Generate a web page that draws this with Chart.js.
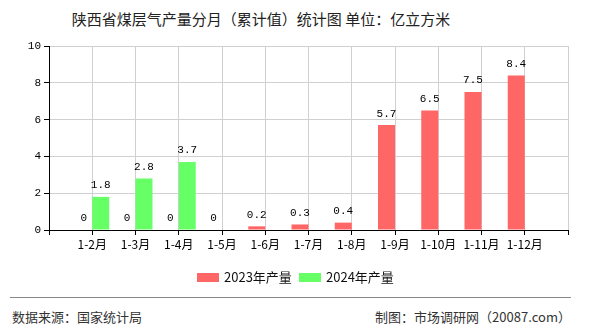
<!DOCTYPE html>
<html>
<head>
<meta charset="utf-8">
<script src="https://cdn.jsdelivr.net/npm/chart.js@4.4.1/dist/chart.umd.min.js"></script>
<style>
  body { margin: 0; width: 590px; height: 330px; background: #fff; position: relative; overflow: hidden;
         font-family: "Noto Sans CJK SC", "Noto Sans", sans-serif; }
  #title { position: absolute; left: 0; width: 522px; top: 8px; text-align: center; font-size: 15px; color: #222; white-space: nowrap; }
  #wrap { position: absolute; left: 0; top: 0; width: 590px; height: 298px; }
  .legend { position: absolute; top: 268px; font-size: 13px; color: #111; line-height: 18px; }
  .legend i { display: inline-block; width: 22px; height: 9px; vertical-align: middle; margin-right: 5px; position: relative; top: -1px; }
  #sep { position: absolute; left: 10px; width: 561px; top: 297px; height: 0; border-top: 1px solid #888; }
  .foot { position: absolute; top: 307px; font-size: 13px; color: #333; }
</style>
</head>
<body>
<div id="title">陕西省煤层气产量分月（累计值）统计图 单位：亿立方米</div>
<div id="wrap"><canvas id="chart"></canvas></div>
<div class="legend" style="left:197px"><i style="background:#ff6666"></i>2023年产量</div>
<div class="legend" style="left:299px"><i style="background:#66ff66"></i>2024年产量</div>
<div id="sep"></div>
<div class="foot" style="left:12px">数据来源：国家统计局</div>
<div class="foot" style="right:19px">制图：市场调研网（20087.com）</div>
<script>
// 类目（首尾留空，标签落在网格线上）
const months = ["", "1-2月", "1-3月", "1-4月", "1-5月", "1-6月", "1-7月", "1-8月", "1-9月", "1-10月", "1-11月", "1-12月", ""];
const output2023 = [null, 0, 0, 0, 0, 0.2, 0.3, 0.4, 5.7, 6.5, 7.5, 8.4, null];
const output2024 = [null, 1.8, 2.8, 3.7, null, null, null, null, null, null, null, null, null];
const yTicks = [0, 2, 4, 6, 8, 10];

// 柱顶数值标签
const valueLabels = {
  id: "valueLabels",
  afterDatasetsDraw(chart) {
    const ctx = chart.ctx;
    ctx.save();
    ctx.font = "11px 'Liberation Mono', monospace";
    ctx.fillStyle = "#000";
    ctx.textAlign = "center";
    ctx.textBaseline = "bottom";
    chart.data.datasets.forEach((ds, i) => {
      chart.getDatasetMeta(i).data.forEach((bar, j) => {
        const v = ds.data[j];
        if (v === null || v === undefined) return;
        ctx.fillText(String(v), bar.x, bar.y - 6);
      });
    });
    ctx.restore();
  },
};

new Chart(document.getElementById("chart"), {
  type: "bar",
  data: {
    labels: months,
    datasets: [
      { label: "2023年产量", data: output2023, backgroundColor: "#ff6666", categoryPercentage: 0.786, barPercentage: 1.0 },
      { label: "2024年产量", data: output2024, backgroundColor: "#66ff66", categoryPercentage: 0.786, barPercentage: 1.0 },
    ],
  },
  options: {
    responsive: true,
    maintainAspectRatio: false,
    animation: false,
    layout: { padding: { left: 0, right: 22, top: 46, bottom: 38 } },
    plugins: { legend: { display: false }, tooltip: { enabled: false } },
    scales: {
      x: {
        offset: false,
        grid: { offset: false, color: "#d0d0d0", tickColor: "#000", tickLength: 5 },
        border: { color: "#000" },
        ticks: { color: "#000", font: { size: 12, family: "Noto Sans CJK SC" }, maxRotation: 0, autoSkip: false, padding: 2 },
        afterFit: (s) => { s.height = 30; },
      },
      y: {
        min: 0,
        max: 10,
        afterBuildTicks: (s) => { s.ticks = yTicks.map((v) => ({ value: v })); },
        grid: { color: "#d0d0d0", tickColor: "#000", tickLength: 5 },
        border: { color: "#000" },
        ticks: { color: "#000", font: { size: 11, family: "Liberation Mono" }, padding: 3 },
        afterFit: (s) => { s.width = 49; },
      },
    },
  },
  plugins: [valueLabels],
});
</script>
</body>
</html>
